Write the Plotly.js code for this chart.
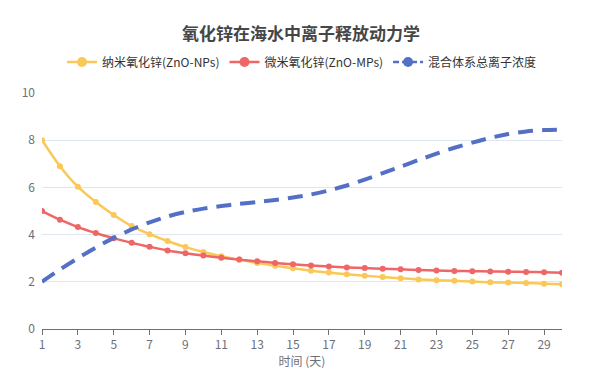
<!DOCTYPE html>
<html>
<head>
<meta charset="utf-8">
<script src="https://cdn.plot.ly/plotly-3.0.1.min.js"></script>
<style>
html,body{margin:0;padding:0;background:#fff;}
#chart{width:602px;height:378px;}
</style>
</head>
<body>
<div id="chart"></div>
<script>
const days = [1,2,3,4,5,6,7,8,9,10,11,12,13,14,15,16,17,18,19,20,21,22,23,24,25,26,27,28,29,30];
const nanoZnO = [8.0,6.9,6.03,5.38,4.83,4.36,4.02,3.73,3.47,3.26,3.08,2.94,2.8,2.68,2.57,2.47,2.39,2.32,2.26,2.2,2.15,2.1,2.07,2.04,2.01,1.98,1.97,1.95,1.92,1.9];
const microZnO = [5.0,4.63,4.32,4.07,3.85,3.65,3.48,3.33,3.21,3.11,3.02,2.94,2.87,2.8,2.74,2.69,2.65,2.61,2.58,2.55,2.53,2.5,2.48,2.46,2.45,2.44,2.43,2.42,2.4,2.38];
const totalIons = [2.0,2.52,3.0,3.45,3.86,4.22,4.52,4.77,4.96,5.1,5.21,5.3,5.38,5.47,5.57,5.7,5.87,6.08,6.33,6.6,6.88,7.16,7.43,7.68,7.9,8.1,8.26,8.37,8.43,8.45];
const xTicks = [1,3,5,7,9,11,13,15,17,19,21,23,25,27,29];
const seriesNames = ['纳米氧化锌(ZnO-NPs)','微米氧化锌(ZnO-MPs)','混合体系总离子浓度'];
const seriesColors = ['#fac858','#ee6666','#5470c6'];

const FONT = '"Noto Sans CJK SC", "Noto Sans", sans-serif';

const traces = [
  {x: days, y: nanoZnO, name: seriesNames[0], type:'scatter', mode:'lines+markers', showlegend:false,
   line:{color:seriesColors[0], width:2.5, shape:'spline', smoothing:0.6},
   marker:{color:seriesColors[0], size:6}},
  {x: days, y: microZnO, name: seriesNames[1], type:'scatter', mode:'lines+markers', showlegend:false,
   line:{color:seriesColors[1], width:2.5, shape:'spline', smoothing:0.6},
   marker:{color:seriesColors[1], size:6}},
  {x: days, y: totalIons, name: seriesNames[2], type:'scatter', mode:'lines', showlegend:false,
   line:{color:seriesColors[2], width:4, shape:'spline', smoothing:0.8, dash:'15px,9px'}}
];
// legend-only entries (no data points) to mimic the larger legend icons
seriesNames.forEach((nm, i) => {
  traces.push({x:[null], y:[null], name:nm, type:'scatter', mode:'lines+markers',
    line:{color:seriesColors[i], width:2.5, dash: i === 2 ? '6px,3px' : 'solid'},
    marker:{color:seriesColors[i], size:10}});
});

const layout = {
  width: 602, height: 378,
  margin: {l:42, r:40, t:93, b:49},
  paper_bgcolor:'#ffffff', plot_bgcolor:'#ffffff',
  font: {family: FONT, size: 12, color:'#6E7079'},
  title: {text:'<b>氧化锌在海水中离子释放动力学</b>', x:0.5, xanchor:'center',
          y: 1 - 34/378, yanchor:'middle', yref:'container',
          font:{family: FONT, size:17, color:'#464646'}},
  showlegend: true,
  legend: {orientation:'h', x:0.5, xanchor:'center', y: 1 - 62/378, yanchor:'middle',
           yref:'container',
           font:{family: FONT, size:12, color:'#333333'}, itemwidth:30, tracegroupgap:0},
  xaxis: {range:[1,30], tickvals: xTicks, ticktext: xTicks.map(String),
          showgrid:false, zeroline:false, showline:true, linecolor:'#6E7079', linewidth:1,
          ticks:'outside', ticklen:5, tickcolor:'#6E7079',
          tickfont:{size:12, color:'#6E7079'},
          title:{text:'时间 (天)', standoff:6, font:{size:12, color:'#6E7079'}}},
  yaxis: {range:[0,10], dtick:2, showgrid:true, gridcolor:'#E0E6F1', gridwidth:1,
          zeroline:false, showline:false, ticks:'', ticklabelstandoff:6,
          tickfont:{size:12, color:'#6E7079'}}
};

Plotly.newPlot('chart', traces, layout, {displayModeBar:false, staticPlot:true});
</script>
</body>
</html>
